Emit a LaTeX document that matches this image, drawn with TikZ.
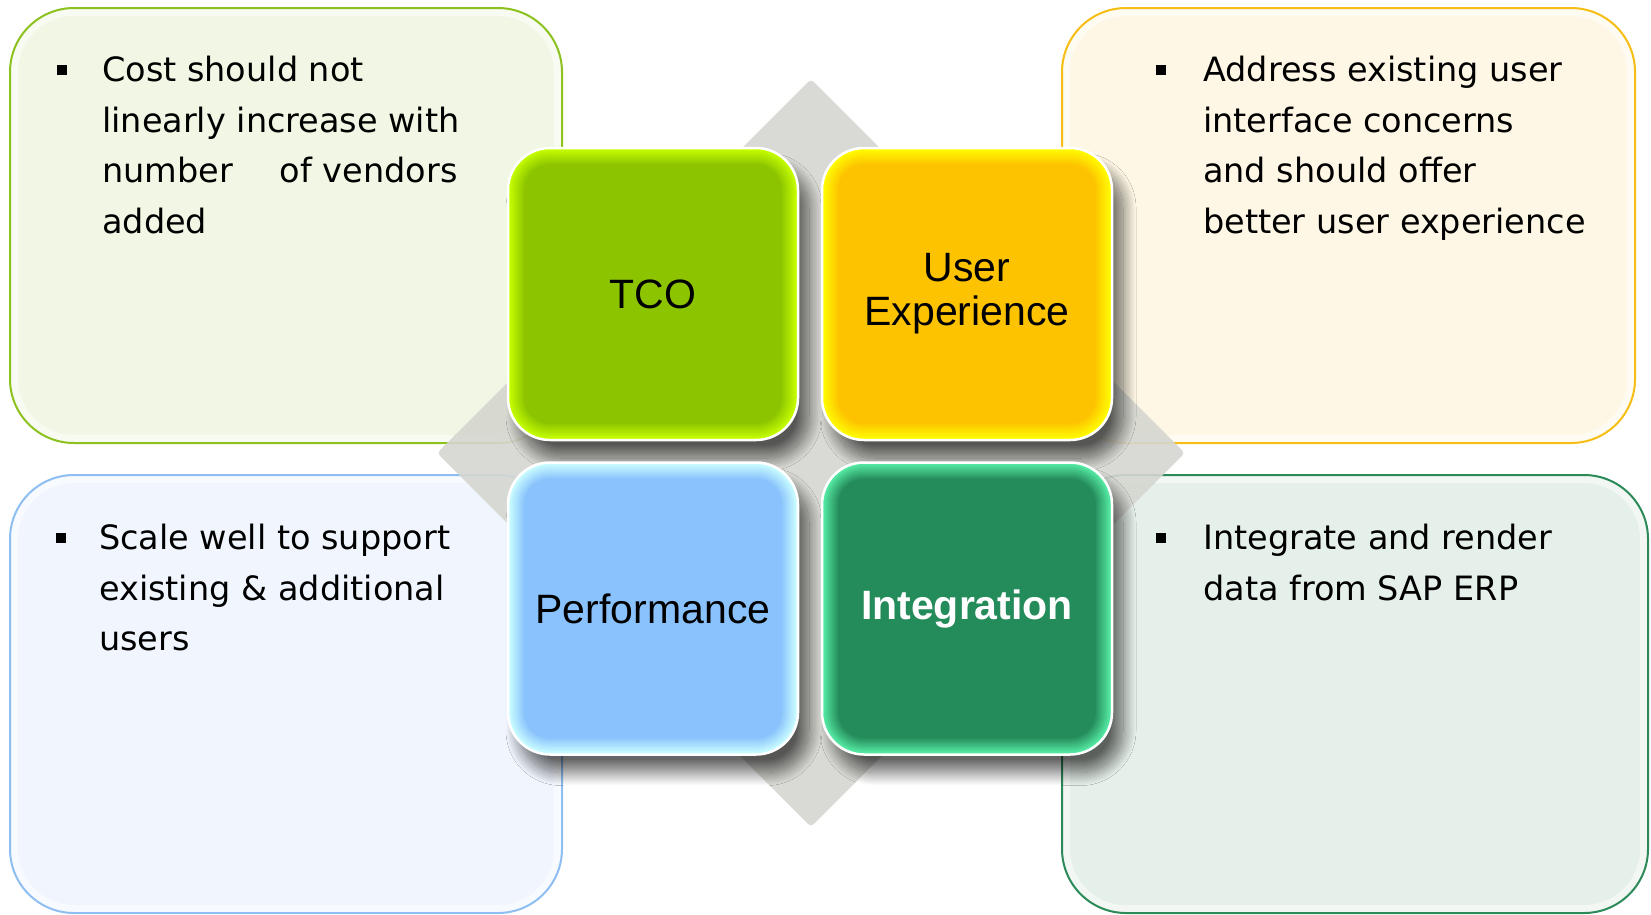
\documentclass[tikz,border=0pt]{standalone}
\usepackage{fontspec}
\setmainfont{DejaVu Sans}
\newfontfamily\tilefont{Liberation Sans}
\usetikzlibrary{shapes.geometric,shadows.blur}

\definecolor{tcogreen}{HTML}{8BC400}
\definecolor{tcoglow}{HTML}{C8FF00}
\definecolor{uxorange}{HTML}{FDC200}
\definecolor{uxglow}{HTML}{FFFF00}
\definecolor{perfblue}{HTML}{88C1FC}
\definecolor{perfglow}{HTML}{CCFFFF}
\definecolor{intgreen}{HTML}{248A5A}
\definecolor{intglow}{HTML}{58EEA6}
\definecolor{tcoline}{HTML}{8CC21E}
\definecolor{tcopanel}{HTML}{F1F7E4}
\definecolor{uxline}{HTML}{F6BE14}
\definecolor{uxpanel}{HTML}{FEF7E5}
\definecolor{perfline}{HTML}{8EBEF2}
\definecolor{perfpanel}{HTML}{F0F5FE}
\definecolor{intline}{HTML}{2B8A58}
\definecolor{intpanel}{HTML}{E6F0EA}
\definecolor{coregrey}{HTML}{D5D6D0}

\begin{document}
\begin{tikzpicture}[x=1pt, y=-1pt,
    panel/.style={draw=#1, line width=2pt, rounded corners=64pt, inner sep=0pt,
        path picture={\draw[white, line width=16pt, opacity=0.5, rounded corners=64pt]
            (path picture bounding box.south west) rectangle (path picture bounding box.north east);}},
    tile/.style 2 args={rounded corners=42pt, minimum width=290pt, minimum height=292pt,
        inner sep=0pt, draw=white, line width=2.5pt, fill=#1, align=center,
        font=\tilefont\fontsize{41}{44}\selectfont,
        blur shadow={shadow xshift=11pt, shadow yshift=-18pt, shadow blur radius=13pt,
                     shadow blur steps=24, shadow opacity=60},
        path picture={
            \foreach \k [evaluate=\k as \p using int(11*\k), evaluate=\k as \d using 1.8*\k,
                         evaluate=\k as \r using 42-1.8*\k] in {0,...,9}
                \fill[#1!\p!#2, rounded corners=\r pt]
                    ([shift={(\d pt,-\d pt)}]path picture bounding box.north west) rectangle
                    ([shift={(-\d pt,\d pt)}]path picture bounding box.south east);
        }}]
\tikzset{bullet/.style={fill=black, minimum size=10pt, inner sep=0pt},
         point/.style={anchor=north west, inner sep=0pt, align=left,
                       font=\fontsize{33.5}{50.5}\selectfont}}
%\tikzset{point/.style={anchor=base west, text width=420pt}}
\useasboundingbox (0,0) rectangle (1651,914);

% the four panels
\node[panel=tcoline, fill=tcopanel, minimum width=552pt, minimum height=435pt] (tcobox) at (286,225.5) {};
\node[panel=uxline, fill=uxpanel, minimum width=573pt, minimum height=435pt] (uxbox) at (1348.5,225.5) {};
\node[panel=perfline, fill=perfpanel, minimum width=552pt, minimum height=438pt] (perfbox) at (286,694) {};
\node[panel=intline, fill=intpanel, minimum width=586pt, minimum height=438pt] (intbox) at (1355,694) {};

\node[bullet] (tcodot) at (62,70) {};
\node[point] (tcotext) at (102,56) {Cost should not\\
    linearly increase with\\
    number\hspace{47pt}of vendors\\
    added};
\node[bullet] (uxdot) at (1161,70) {};
\node[point] (uxtext) at (1203,56) {Address existing user\\
    interface concerns\\
    and should offer\\
    better user experience};
\node[bullet] (perfdot) at (61,538) {};
\node[point] (perftext) at (99,524) {Scale well to support\\
    existing \& additional\\
    users};
\node[bullet] (intdot) at (1161,538) {};
\node[point] (inttext) at (1203,524) {Integrate and render\\
    data from SAP ERP};

% grey diamond behind the tiles
\node[diamond, minimum width=748pt, minimum height=748pt, inner sep=0pt,
      fill=coregrey, fill opacity=0.9, rounded corners=4pt] (core) at (811,453) {};

% the four tiles
\node[tile={tcogreen}{tcoglow}] (tco) at (653,294) {TCO};
\node[tile={uxorange}{uxglow}] (ux) at (967,294) {User\\Experience};
\node[tile={perfblue}{perfglow}] (perf) at (653,608.5) {Performance};
\node[tile={intgreen}{intglow}, text=white,
      font=\tilefont\bfseries\fontsize{41}{44}\selectfont] (integ) at (967,608.5) {Integration};
\end{tikzpicture}
\end{document}
